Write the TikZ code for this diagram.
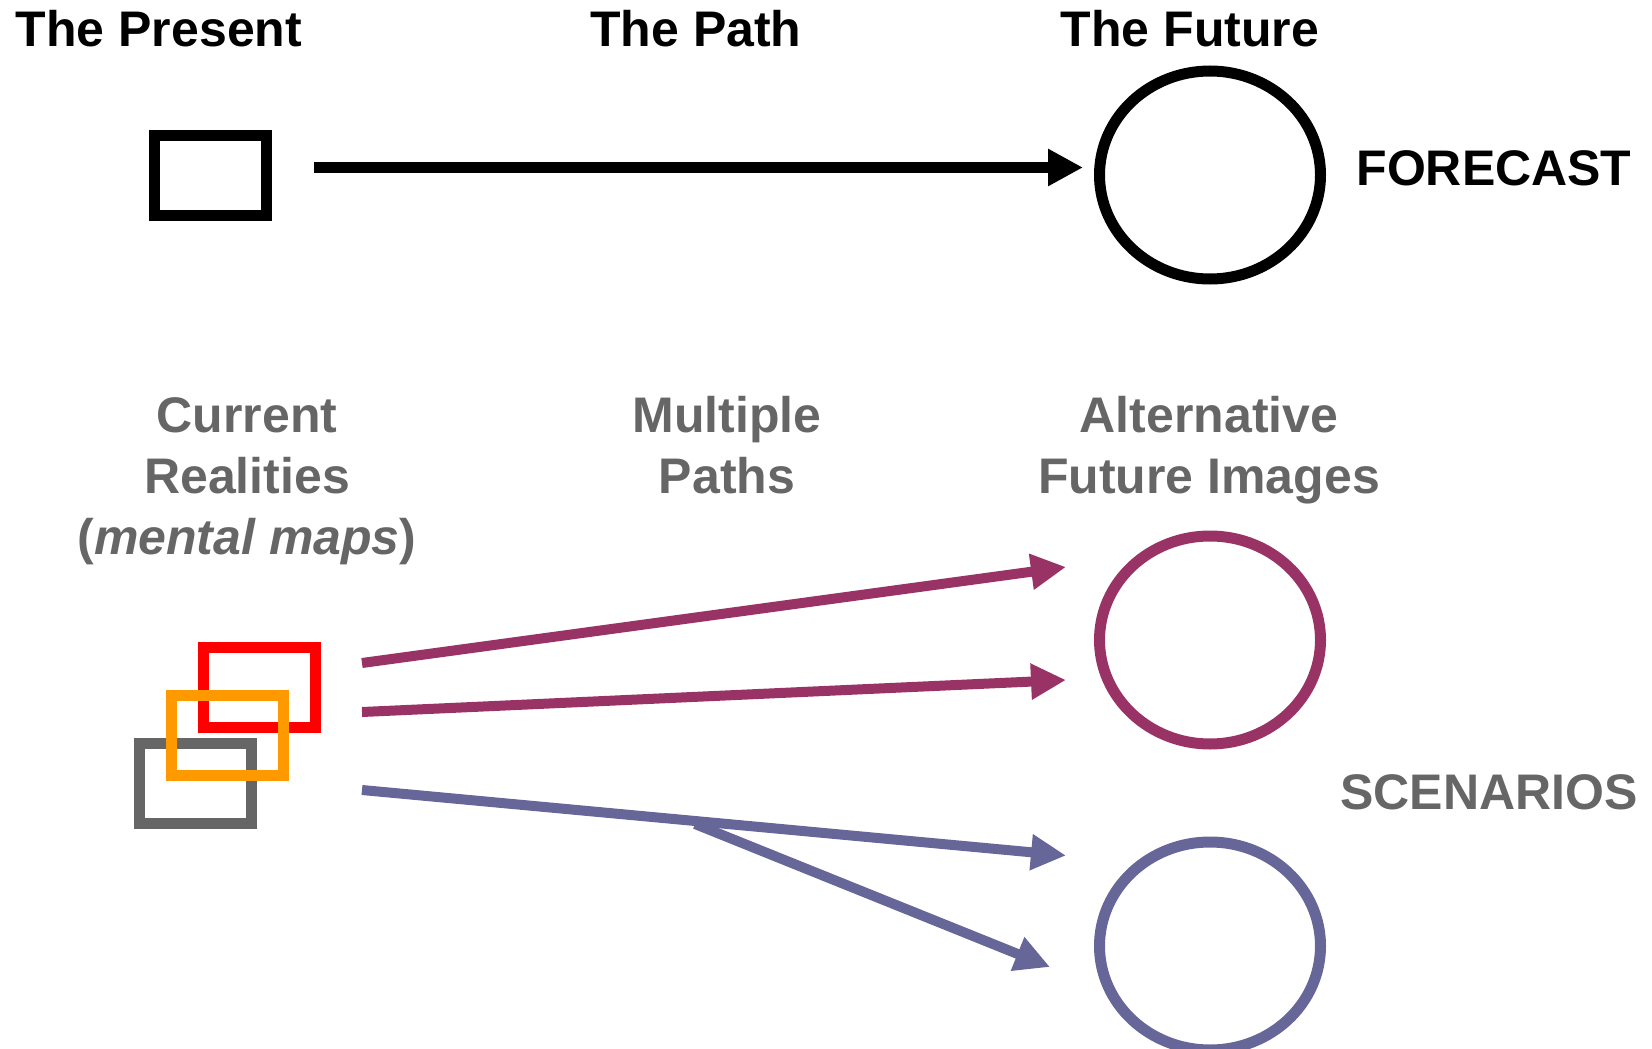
\documentclass[tikz,border=0pt]{standalone}
\usepackage{fontspec}
\setmainfont{Liberation Sans}
\usetikzlibrary{arrows.meta,shapes.geometric}
\definecolor{txtgray}{HTML}{666666}
\definecolor{boxgray}{HTML}{666666}
\definecolor{magentac}{HTML}{993366}
\definecolor{purplec}{HTML}{666699}
\definecolor{redc}{HTML}{FF0000}
\definecolor{orangec}{HTML}{FF9900}
\begin{document}
\begin{tikzpicture}[x=1pt,y=-1pt,
  title/.style={font=\bfseries\fontsize{50}{61}\selectfont, anchor=base, inner sep=0pt},
  gtitle/.style={title, text=txtgray},
  box/.style={draw, rectangle, minimum width=112pt, minimum height=80pt, line width=11pt, inner sep=0pt},
  oval/.style={draw, ellipse, minimum width=221pt, minimum height=208pt, line width=11pt, inner sep=0pt},
  arr/.style={line width=10pt, -{Triangle[length=35pt,width=34pt]}},
  blackarr/.style={line width=11pt, -{Triangle[length=35pt,width=35pt]}}
]
\useasboundingbox (0,0) rectangle (1652,1049);

% headings
\node[title] (present) at (159,47) {The Present};
\node[title] (path) at (696,47) {The Path};
\node[title] (future) at (1190,47) {The Future};
\node[title] (forecast) at (1494,185) {FORECAST};

\node[gtitle] (cur1) at (247,432) {Current};
\node[gtitle] (cur2) at (247,493) {Realities};
\node[gtitle] (cur3) at (247,554) {(\textit{mental maps})};
\node[gtitle] (mul1) at (727,432) {Multiple};
\node[gtitle] (mul2) at (727,493) {Paths};
\node[gtitle] (alt1) at (1209,432) {Alternative};
\node[gtitle] (alt2) at (1209,493) {Future Images};
\node[gtitle] (scen) at (1489,809) {SCENARIOS};

% shapes
\node[box, draw=black] (sq) at (210.5,175.5) {};
\node[oval, draw=black] (fut) at (1210,175) {};

\node[box, draw=redc] (rred) at (259,687.5) {};
\node[box, draw=boxgray] (rgray) at (195,783.5) {};
\node[box, draw=orangec] (rorange) at (227,735.5) {};

\node[oval, draw=magentac] (e1) at (1210,640) {};
\node[oval, draw=purplec] (e2) at (1210,946) {};

% connector end points
\coordinate (b0) at (314,167.5);
\coordinate (b1) at (1083,167.5);
\coordinate (m1s) at (362,663);
\coordinate (m1e) at (1066,567);
\coordinate (m2s) at (362,712);
\coordinate (m2e) at (1066,680);
\coordinate (p1s) at (362,790);
\coordinate (p1e) at (1066,855.5);
\coordinate (p2s) at (695,824);
\coordinate (p2e) at (1050,967);

\draw[blackarr, draw=black] (b0) -- (b1);
\draw[arr, draw=magentac] (m1s) -- (m1e);
\draw[arr, draw=magentac] (m2s) -- (m2e);
\draw[arr, draw=purplec] (p1s) -- (p1e);
\draw[arr, draw=purplec] (p2s) -- (p2e);
\end{tikzpicture}
\end{document}
